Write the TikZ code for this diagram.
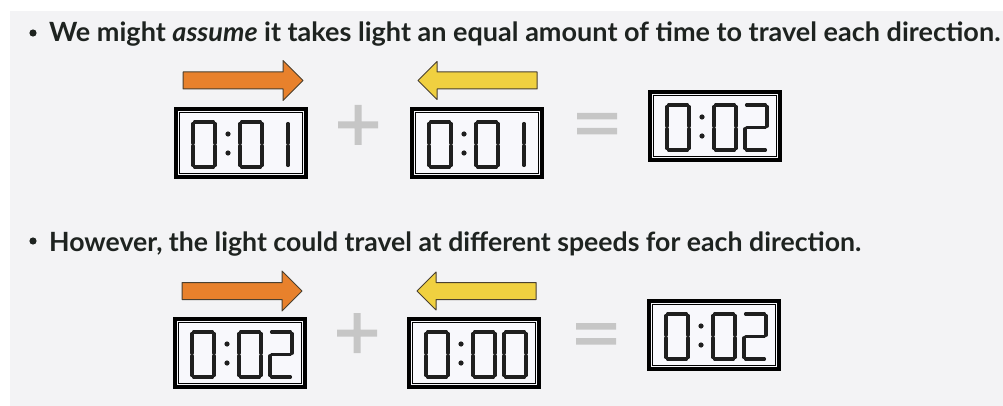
\documentclass[tikz,border=0pt]{standalone}
\usepackage{fontspec}
\setsansfont{Lato}
\definecolor{panel}{HTML}{F3F3F5}
\definecolor{txt}{HTML}{1E2320}
\definecolor{orng}{HTML}{E8812C}
\definecolor{ylw}{HTML}{F0D040}
\definecolor{edge}{HTML}{4A4030}
\definecolor{opgray}{HTML}{C6C6C6}
\definecolor{face}{HTML}{F8F8FC}
\tikzset{
  seg/.style={line width=3.1pt, line cap=round, draw=black!88},
  clockbox/.style={draw=black, line width=3.4pt, fill=face, minimum width=130pt, minimum height=68pt, inner sep=0pt, outer sep=0pt, anchor=north west},
  lbl/.style={font=\sffamily\bfseries\fontsize{26.5}{30}\selectfont, text=txt, anchor=base west, inner sep=0pt},
  oparrow/.style={line width=1pt, draw=edge, line join=round},
  opsign/.style={fill=opgray, draw=none},
}
\newcommand\sA{\draw[seg] (1.5,0)--(20.5,0);}
\newcommand\sB{\draw[seg] (22,1.5)--(22,21.3);}
\newcommand\sC{\draw[seg] (22,23.7)--(22,43.5);}
\newcommand\sD{\draw[seg] (1.5,45)--(20.5,45);}
\newcommand\sE{\draw[seg] (0,23.7)--(0,43.5);}
\newcommand\sF{\draw[seg] (0,1.5)--(0,21.3);}
\newcommand\sG{\draw[seg] (1.5,22.5)--(20.5,22.5);}
\newcommand\dZero[1]{\begin{scope}[shift={#1}]\sA\sB\sC\sD\sE\sF\end{scope}}
\newcommand\dOne[1]{\begin{scope}[shift={#1}]\sB\sC\end{scope}}
\newcommand\dTwo[1]{\begin{scope}[shift={#1}]\sA\sB\sG\sE\sD\end{scope}}
\newcommand\dDots{\fill[black!88] (52,25) circle (2.6pt) (52,44) circle (2.6pt);}
\newcommand\clockat[3]{%
  \node[clockbox] (#1) at #2 {};
  \draw[line width=1.1pt] ([shift={(3.6,3.6)}]#1.north west) rectangle ([shift={(-3.6,-3.6)}]#1.south east);
  \begin{scope}[shift={(#1.north west)}]
    \dZero{(17,13)}\dDots\dZero{(64,13)}#3
  \end{scope}}
\newcommand\rarrow[2]{% start x, center y
  \filldraw[oparrow, fill=orng] (#1,#2-8.5) -- (#1+100,#2-8.5) -- (#1+100,#2-20) -- (#1+120,#2) -- (#1+100,#2+20) -- (#1+100,#2+8.5) -- (#1,#2+8.5) -- cycle;}
\newcommand\larrow[2]{% tip x, center y
  \filldraw[oparrow, fill=ylw] (#1,#2) -- (#1+19,#2-19) -- (#1+19,#2-8.5) -- (#1+119,#2-8.5) -- (#1+119,#2+8.5) -- (#1+19,#2+8.5) -- (#1+19,#2+19) -- cycle;}
\newcommand\plussign[2]{\fill[opsign] (#1-20,#2-3.5) rectangle (#1+20,#2+3.5) (#1-3.5,#2-20) rectangle (#1+3.5,#2+20);}
\newcommand\eqsign[2]{\fill[opsign] (#1,#2) rectangle (#1+40,#2+6.5) (#1,#2+15) rectangle (#1+40,#2+21.5);}
\begin{document}
\begin{tikzpicture}[x=1pt,y=-1pt]
\useasboundingbox (0,0) rectangle (1003,406);
\fill[white] (0,0) rectangle (1003,406);
\fill[panel] (10,11) rectangle (1003,406);
% row 1
\fill[txt] (33,33) circle (3.6pt);
\node[lbl] (t1) at (49,42) {\scalebox{1.02}[1]{We might \textit{assume} it takes light an equal amount of time to travel each direction.}};
\rarrow{183}{80.5}
\larrow{418}{80.5}
\clockat{c1}{(176,109)}{\dOne{(90,13)}}
\plussign{358}{125}
\clockat{c2}{(412,109)}{\dOne{(90,13)}}
\eqsign{577}{113}
\clockat{c3}{(650,92)}{\dTwo{(95,13)}}
% row 2
\fill[txt] (33,241) circle (3.6pt);
\node[lbl] (t2) at (49,251) {\scalebox{1.006}[1]{However, the light could travel at different speeds for each direction.}};
\rarrow{182}{291}
\larrow{417}{291}
\clockat{c4}{(175,319)}{\dTwo{(95,13)}}
\plussign{357}{333}
\clockat{c5}{(409,319)}{\dZero{(95,13)}}
\eqsign{576}{323}
\clockat{c6}{(649,301)}{\dTwo{(95,13)}}
\end{tikzpicture}
\end{document}
